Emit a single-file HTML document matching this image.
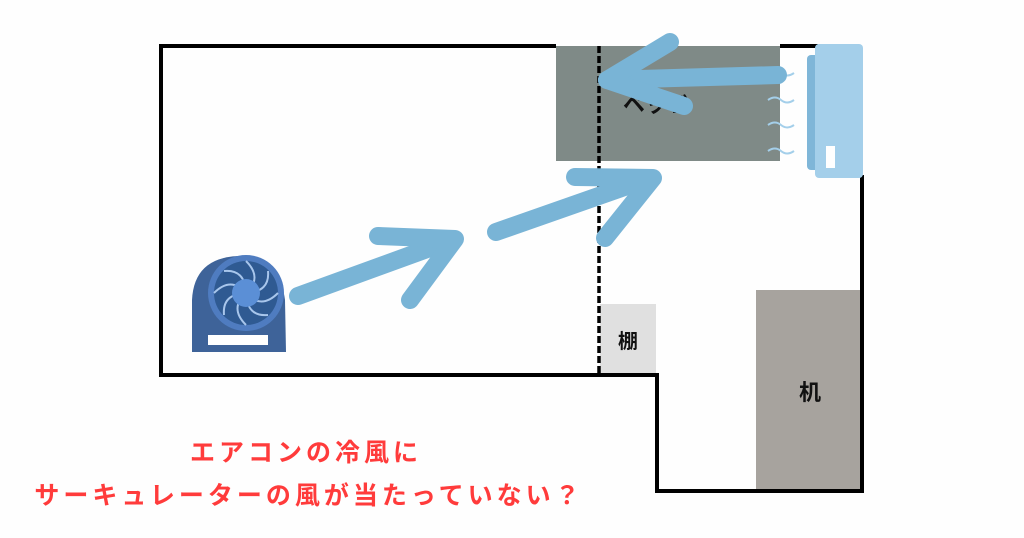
<!DOCTYPE html>
<html><head><meta charset="utf-8"><style>
body{margin:0;background:#fefefe;}
svg{display:block}
.t{font-family:"Liberation Sans","Noto Sans CJK JP",sans-serif;font-weight:bold;}
</style></head><body>
<svg width="1024" height="538" viewBox="0 0 1024 538">
<rect width="1024" height="538" fill="#fefefe"/>
<rect x="556" y="46" width="224" height="115" fill="#7f8a87"/>
<rect x="756" y="290" width="106" height="201" fill="#a7a39e"/>
<rect x="600" y="304" width="56" height="70" fill="#e0e0e0"/>
<g stroke="#000" stroke-width="4" fill="none">
<polyline points="556,46 161,46 161,375 657,375 657,491 862,491 862,175"/>
<line x1="780" y1="46" x2="818" y2="46"/>
</g>
<line x1="599" y1="46" x2="599" y2="375" stroke="#000" stroke-width="3.5" stroke-dasharray="7,3"/>
<rect x="807" y="55" width="20" height="115" rx="4" fill="#7fb6d8"/>
<rect x="815" y="44" width="48" height="134" rx="4" fill="#a4cfea"/>
<rect x="826" y="146" width="9" height="22" fill="#fff"/>
<g stroke="#a4cfea" stroke-width="2" fill="none">
<path d="M768,73 q7,-5 13,0 t13,0"/>
<path d="M768,100 q7,-5 13,0 t13,0"/>
<path d="M768,125 q7,-5 13,0 t13,0"/>
<path d="M768,151 q7,-5 13,0 t13,0"/>
</g>
<text class="t" x="656" y="112" font-size="22" text-anchor="middle" fill="#111">ベッド</text>
<text class="t" x="628" y="348" font-size="20" text-anchor="middle" fill="#111">棚</text>
<text class="t" x="810" y="400" font-size="22" text-anchor="middle" fill="#111">机</text>
<g stroke="#79b4d6" stroke-width="18" stroke-linecap="round" stroke-linejoin="round" fill="none">
<path d="M298,296 L452,240"/>
<path d="M378,236 L455,239 L410,300"/>
<path d="M496,232 L650,178"/>
<path d="M575,177 L653,178 L605,238"/>
<path d="M778,75 L607,80"/>
<path d="M670,42 L607,80 L684,106"/>
</g>
<path d="M192,352 L192,300 Q194,258 238,256 Q280,260 285,300 L286,352 Z" fill="#3e6399"/>
<rect x="208" y="335" width="60" height="10" fill="#fff"/>
<circle cx="246" cy="293" r="38" fill="#4f7cc0"/>
<circle cx="246" cy="293" r="32" fill="#2f5a92"/>
<g stroke="#a8c6ec" stroke-width="2" fill="none">
<path d="M246,261 Q263,278 246,293"/><path d="M278,293 Q261,310 246,293"/><path d="M246,325 Q229,308 246,293"/><path d="M214,293 Q231,276 246,293"/>
<path d="M268,271 Q270,292 246,293"/><path d="M268,315 Q247,317 246,293"/><path d="M224,315 Q222,294 246,293"/><path d="M224,271 Q245,269 246,293"/>
</g>
<circle cx="246" cy="293" r="14" fill="#5b8fd6"/>
<text class="t" x="306" y="461" font-size="25" letter-spacing="4" text-anchor="middle" fill="#ff3b3b">エアコンの冷風に</text>
<text class="t" x="309" y="504" font-size="25" letter-spacing="4" text-anchor="middle" fill="#ff3b3b">サーキュレーターの風が当たっていない？</text>
</svg>
</body></html>
